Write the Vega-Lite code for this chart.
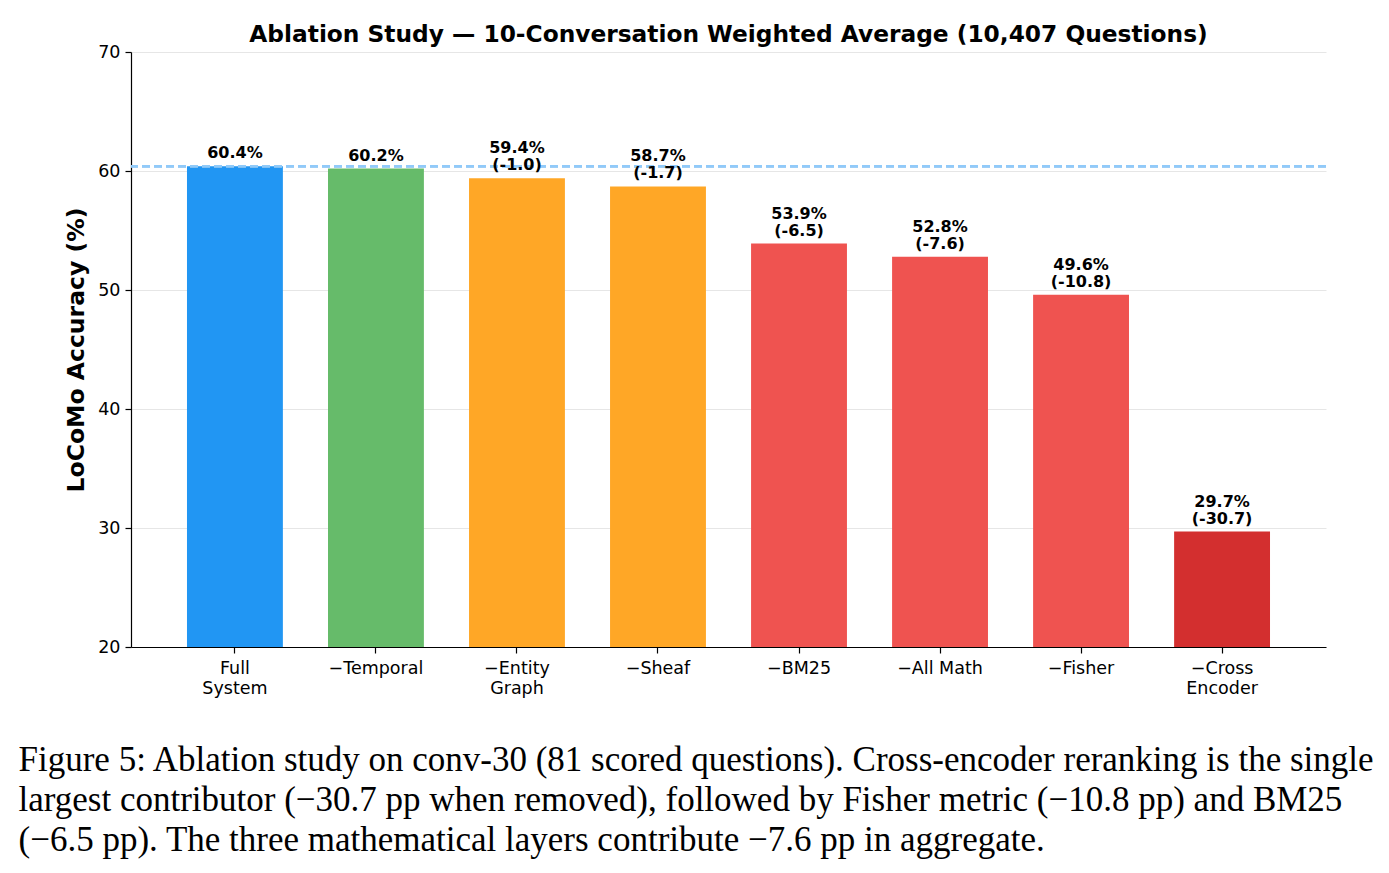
{
  "$schema": "https://vega.github.io/schema/vega-lite/v6.json",
  "width": 1195,
  "height": 595,
  "autosize": {"type": "none"},
  "padding": {"left": 131, "top": 52, "right": 63, "bottom": 226},
  "background": "white",
  "title": {
    "text": "Ablation Study — 10-Conversation Weighted Average (10,407 Questions)",
    "font": "DejaVu Sans",
    "fontSize": 23.3,
    "fontWeight": "bold",
    "color": "black",
    "anchor": "middle",
    "offset": -4
  },
  "config": {
    "view": {"stroke": null},
    "axis": {
      "labelFont": "DejaVu Sans",
      "labelFontSize": 17.5,
      "labelColor": "black",
      "domainColor": "black",
      "domainWidth": 1.2,
      "tickColor": "black",
      "tickSize": 6,
      "tickWidth": 1.2,
      "titleColor": "black"
    }
  },
  "data": {
    "values": [
      {"config": "Full\nSystem", "acc": 60.4, "delta": "", "tier": "baseline"},
      {"config": "−Temporal", "acc": 60.2, "delta": "", "tier": "negligible"},
      {"config": "−Entity\nGraph", "acc": 59.4, "delta": "(-1.0)", "tier": "minor"},
      {"config": "−Sheaf", "acc": 58.7, "delta": "(-1.7)", "tier": "minor"},
      {"config": "−BM25", "acc": 53.9, "delta": "(-6.5)", "tier": "major"},
      {"config": "−All Math", "acc": 52.8, "delta": "(-7.6)", "tier": "major"},
      {"config": "−Fisher", "acc": 49.6, "delta": "(-10.8)", "tier": "major"},
      {"config": "−Cross\nEncoder", "acc": 29.7, "delta": "(-30.7)", "tier": "critical"}
    ]
  },
  "transform": [{"calculate": "format(datum.acc, '.1f') + '%'", "as": "pct"}],
  "encoding": {
    "x": {
      "field": "config",
      "type": "nominal",
      "sort": null,
      "scale": {"paddingInner": 0.32, "paddingOuter": 0.397},
      "axis": {
        "labelAngle": 0,
        "labelExpr": "split(datum.label, '\\n')",
        "labelLineHeight": 20,
        "labelPadding": 6,
        "labelBaseline": "top",
        "grid": false,
        "title": [
          "Figure 5: Ablation study on conv-30 (81 scored questions). Cross-encoder reranking is the single",
          "largest contributor (−30.7 pp when removed), followed by Fisher metric (−10.8 pp) and BM25",
          "(−6.5 pp). The three mathematical layers contribute −7.6 pp in aggregate."
        ],
        "titleFont": "Liberation Serif",
        "titleFontSize": 35,
        "titleFontWeight": "normal",
        "titleAnchor": "start",
        "titleAlign": "left",
        "titleBaseline": "alphabetic",
        "titleX": -113,
        "titleY": 123,
        "titleLineHeight": 40
      }
    },
    "y": {"field": "acc", "type": "quantitative"}
  },
  "layer": [
    {
      "mark": {"type": "bar", "clip": true},
      "encoding": {
        "y": {
          "field": "acc",
          "type": "quantitative",
          "scale": {"domain": [20, 70], "nice": false, "zero": false},
          "axis": {
            "values": [20, 30, 40, 50, 60, 70],
            "grid": true,
            "gridColor": "#e6e6e6",
            "gridWidth": 1,
            "labelPadding": 5,
            "title": "LoCoMo Accuracy (%)",
            "titleFont": "DejaVu Sans",
            "titleFontSize": 23.5,
            "titleFontWeight": "bold",
            "titlePadding": 9
          }
        },
        "color": {
          "field": "tier",
          "type": "nominal",
          "scale": {
            "domain": ["baseline", "negligible", "minor", "major", "critical"],
            "range": ["#2196F3", "#66BB6A", "#FFA726", "#EF5350", "#D32F2F"]
          },
          "legend": null
        }
      }
    },
    {
      "mark": {"type": "rule", "color": "#90CAF9", "strokeWidth": 2, "strokeDash": [8, 4], "opacity": 0.85},
      "encoding": {"y": {"datum": 60.4, "type": "quantitative"}, "x": null}
    },
    {
      "transform": [{"filter": "datum.delta == ''"}],
      "mark": {"type": "text", "font": "DejaVu Sans", "fontSize": 16, "fontWeight": "bold", "color": "black", "baseline": "bottom", "dy": -5},
      "encoding": {
        "text": {"field": "pct"}
      }
    },
    {
      "transform": [{"filter": "datum.delta != ''"}],
      "mark": {"type": "text", "font": "DejaVu Sans", "fontSize": 16, "fontWeight": "bold", "color": "black", "baseline": "bottom", "dy": -22},
      "encoding": {
        "text": {"field": "pct"}
      }
    },
    {
      "transform": [{"filter": "datum.delta != ''"}],
      "mark": {"type": "text", "font": "DejaVu Sans", "fontSize": 16, "fontWeight": "bold", "color": "black", "baseline": "bottom", "dy": -5},
      "encoding": {
        "text": {"field": "delta"}
      }
    }
  ]
}
